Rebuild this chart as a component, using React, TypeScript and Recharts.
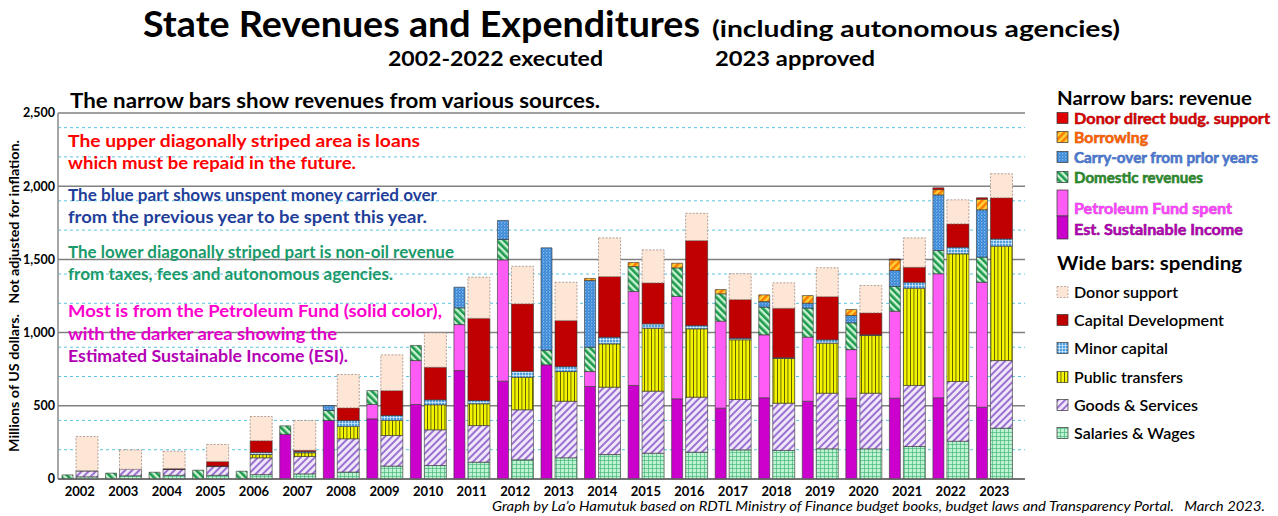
import React from 'react';
import { BarChart, Bar, XAxis, YAxis, CartesianGrid } from 'recharts';

const years = ['2002', '2003', '2004', '2005', '2006', '2007', '2008', '2009', '2010', '2011', '2012', '2013', '2014', '2015', '2016', '2017', '2018', '2019', '2020', '2021', '2022', '2023'];

// narrow bars: revenue (US$ millions)
const esi = [0, 0, 0, 0, 0, 305, 400, 411, 509, 741, 668, 780, 632, 639, 548, 484, 555, 531, 552, 552, 555, 490];
const pfAboveEsi = [0, 0, 0, 0, 0, 0, 0, 98, 300, 314, 829, 0, 102, 642, 699, 594, 430, 438, 332, 594, 847, 854];
const domestic = [28, 40, 46, 60, 53, 58, 68, 95, 103, 114, 139, 100, 166, 170, 195, 187, 189, 198, 183, 169, 159, 171];
const carryOver = [0, 0, 0, 0, 0, 0, 34, 0, 0, 141, 130, 699, 456, 0, 0, 0, 38, 34, 50, 109, 380, 324];
const borrowing = [0, 0, 0, 0, 0, 0, 0, 0, 0, 0, 0, 0, 14, 28, 32, 29, 46, 52, 41, 73, 36, 72];
const donorDirect = [0, 0, 0, 0, 0, 0, 0, 0, 0, 0, 0, 0, 0, 0, 0, 0, 0, 0, 0, 6, 12, 10];

// wide bars: spending
const salaries = [15, 22, 25, 25, 30, 35, 47, 88, 92, 115, 131, 145, 167, 176, 183, 199, 195, 206, 206, 222, 258, 347];
const goods = [40, 45, 40, 60, 115, 119, 228, 209, 244, 250, 342, 386, 460, 424, 376, 344, 323, 380, 380, 417, 408, 462];
const transfers = [0, 0, 0, 0, 22, 25, 84, 103, 171, 149, 222, 203, 296, 430, 467, 408, 305, 342, 394, 664, 872, 781];
const minorCapital = [2, 0, 2, 3, 15, 8, 41, 34, 34, 22, 41, 34, 46, 30, 22, 11, 5, 23, 5, 41, 45, 50];
const capitalDev = [0, 0, 5, 32, 80, 10, 86, 170, 223, 562, 461, 315, 414, 280, 581, 264, 339, 295, 150, 103, 160, 281];
const donorSupport = [233, 132, 118, 116, 165, 203, 228, 244, 234, 280, 256, 261, 264, 225, 186, 176, 173, 197, 187, 200, 164, 164];

const yTicks = [0, 500, 1000, 1500, 2000, 2500];
const minorTicks = [100, 200, 300, 400, 600, 700, 800, 900, 1100, 1200, 1300, 1400, 1600, 1700, 1800, 1900, 2100, 2200, 2300, 2400];

const data = years.map((year, i) => ({
  year,
  esi: esi[i], pf: pfAboveEsi[i], domestic: domestic[i], carry: carryOver[i], borrow: borrowing[i], donorDirect: donorDirect[i],
  salaries: salaries[i], goods: goods[i], transfers: transfers[i], minor: minorCapital[i], capital: capitalDev[i], donor: donorSupport[i],
}));

const FONT = 'Lato, "Open Sans", sans-serif';
const EDGE = '#333';
const GAP = '\u00a0\u00a0\u00a0';

function Patterns() {
  return (
    <svg width={0} height={0} style={{ position: 'absolute' }}>
      <defs>
        <pattern id="pDom" width="5" height="5" patternUnits="userSpaceOnUse" patternTransform="rotate(-45)">
          <rect width="5" height="5" fill="#c9f4d4" />
          <rect width="2.6" height="5" fill="#1f9a4c" />
        </pattern>
        <pattern id="pCarry" width="3" height="3" patternUnits="userSpaceOnUse">
          <rect width="3" height="3" fill="#3a88d6" />
          <circle cx="0.8" cy="0.8" r="0.6" fill="#d8ecff" />
          <circle cx="2.3" cy="2.2" r="0.4" fill="#9fd0ff" />
        </pattern>
        <pattern id="pBorrow" width="5" height="5" patternUnits="userSpaceOnUse" patternTransform="rotate(45)">
          <rect width="5" height="5" fill="#ffd23a" />
          <rect width="2.5" height="5" fill="#ff7a00" />
        </pattern>
        <pattern id="pMinor" width="3" height="3" patternUnits="userSpaceOnUse">
          <rect width="3" height="3" fill="#4f9fe0" />
          <path d="M0 0.4H3M0.4 0V3" stroke="#e6f3ff" strokeWidth="0.7" />
        </pattern>
        <pattern id="pTransfer" width="3.5" height="4" patternUnits="userSpaceOnUse">
          <rect width="3.5" height="4" fill="#f4f400" />
          <rect width="0.8" height="4" fill="#4a4a00" />
        </pattern>
        <pattern id="pGoods" width="5" height="5" patternUnits="userSpaceOnUse" patternTransform="rotate(45)">
          <rect width="5" height="5" fill="#f0e8fa" />
          <rect width="2" height="5" fill="#9c72d0" />
        </pattern>
        <pattern id="pSalary" width="4" height="4" patternUnits="userSpaceOnUse">
          <rect width="4" height="4" fill="#bdf2d2" />
          <path d="M0 0.4H4M0.4 0V4" stroke="#3cb070" strokeWidth="0.7" />
        </pattern>
      </defs>
    </svg>
  );
}

// text stretched to the width it has in the reference
function T({ x, y, w, size, color = '#000', weight = 700, italic, outline, children }: any) {
  return (
    <text x={x} y={y} textLength={w} lengthAdjust="spacingAndGlyphs" dominantBaseline="central"
      fontSize={size} fill={color} fontWeight={weight} fontStyle={italic ? 'italic' : 'normal'} fontFamily={FONT}
      stroke={outline} strokeWidth={outline ? 0.5 : 0} paintOrder="stroke">{children}</text>
  );
}

function Icon({ y, fill, stroke = EDGE, dash, h = 11 }: any) {
  return <rect x={1057} y={y - h / 2} width={11} height={h} fill={fill} stroke={stroke} strokeWidth={0.7} strokeDasharray={dash} />;
}

const revItems = [
  { label: 'Donor direct budg. support', fill: '#e00000', color: '#d80000', line: '#700000', y: 118, w: 196 },
  { label: 'Borrowing', fill: 'url(#pBorrow)', color: '#ff6000', line: '#a04000', y: 137, w: 74 },
  { label: 'Carry-over from prior years', fill: 'url(#pCarry)', color: '#4a78d0', line: '#2a4890', y: 157, w: 184 },
  { label: 'Domestic revenues', fill: 'url(#pDom)', color: '#2a8a2a', line: '#145014', y: 177, w: 129 },
];

const spendItems = [
  { label: 'Donor support', fill: '#fde6d6', stroke: '#a08a80', dash: '2 1.5', y: 292, w: 104 },
  { label: 'Capital Development', fill: '#c00000', y: 320, w: 150 },
  { label: 'Minor capital', fill: 'url(#pMinor)', y: 348, w: 94 },
  { label: 'Public transfers', fill: 'url(#pTransfer)', y: 377, w: 109 },
  { label: 'Goods & Services', fill: 'url(#pGoods)', y: 405, w: 124 },
  { label: 'Salaries & Wages', fill: 'url(#pSalary)', y: 433, w: 121 },
];

export default function App() {
  return (
    <div style={{ position: 'absolute', left: 0, top: 0, width: 1278, height: 516, background: '#fff', overflow: 'hidden', fontFamily: FONT }}>
      <Patterns />
      <BarChart width={1278} height={516} data={data} margin={{ top: 113, right: 253, bottom: 17, left: 8 }} barGap={3}>
        <CartesianGrid vertical={false} horizontalValues={minorTicks} stroke="#5cc4e0" strokeDasharray="3 3" strokeWidth={1} />
        <CartesianGrid vertical={false} horizontalValues={yTicks} stroke="#808080" strokeWidth={1.5} />
        <XAxis dataKey="year" height={20} tickLine={false} axisLine={{ stroke: '#666', strokeWidth: 1.5 }} padding={{ left: 0, right: 9 }}
          tick={{ fontSize: 13, fontWeight: 700, fill: '#000', fontFamily: FONT }} interval={0} />
        <YAxis width={50} domain={[0, 2500]} ticks={yTicks} tickLine={false} tickSize={1} tickMargin={2} axisLine={{ stroke: '#888', strokeWidth: 1.5 }}
          tickFormatter={(v: number) => v.toLocaleString('en-US')} tick={{ fontSize: 12.5, fontWeight: 700, fill: '#000', fontFamily: FONT }} />
        <Bar dataKey="esi" stackId="rev" barSize={11} fill="#cc00cc" stroke={EDGE} strokeWidth={0.6} isAnimationActive={false} />
        <Bar dataKey="pf" stackId="rev" barSize={11} fill="#ff5cf5" stroke={EDGE} strokeWidth={0.6} isAnimationActive={false} />
        <Bar dataKey="domestic" stackId="rev" barSize={11} fill="url(#pDom)" stroke={EDGE} strokeWidth={0.6} isAnimationActive={false} />
        <Bar dataKey="carry" stackId="rev" barSize={11} fill="url(#pCarry)" stroke={EDGE} strokeWidth={0.6} isAnimationActive={false} />
        <Bar dataKey="borrow" stackId="rev" barSize={11} fill="url(#pBorrow)" stroke={EDGE} strokeWidth={0.6} isAnimationActive={false} />
        <Bar dataKey="donorDirect" stackId="rev" barSize={11} fill="#e00000" stroke={EDGE} strokeWidth={0.6} isAnimationActive={false} />
        <Bar dataKey="salaries" stackId="exp" barSize={22} fill="url(#pSalary)" stroke={EDGE} strokeWidth={0.6} isAnimationActive={false} />
        <Bar dataKey="goods" stackId="exp" barSize={22} fill="url(#pGoods)" stroke={EDGE} strokeWidth={0.6} isAnimationActive={false} />
        <Bar dataKey="transfers" stackId="exp" barSize={22} fill="url(#pTransfer)" stroke={EDGE} strokeWidth={0.6} isAnimationActive={false} />
        <Bar dataKey="minor" stackId="exp" barSize={22} fill="url(#pMinor)" stroke={EDGE} strokeWidth={0.6} isAnimationActive={false} />
        <Bar dataKey="capital" stackId="exp" barSize={22} fill="#c00000" stroke={EDGE} strokeWidth={0.6} isAnimationActive={false} />
        <Bar dataKey="donor" stackId="exp" barSize={22} fill="#fde6d6" stroke="#a08a80" strokeDasharray="2 1.5" strokeWidth={0.8} isAnimationActive={false} />
      </BarChart>

      <svg width={1278} height={516} style={{ position: 'absolute', left: 0, top: 0, pointerEvents: 'none' }}>
        <text x={143} y={37} textLength={557} lengthAdjust="spacingAndGlyphs" fontSize={37} fontWeight={700} fontFamily={FONT}>State Revenues and Expenditures</text>
        <text x={712} y={37} textLength={408} lengthAdjust="spacingAndGlyphs" fontSize={23} fontWeight={700} fontFamily={FONT}>(including autonomous agencies)</text>
        <T x={388} y={57} w={215} size={21}>2002-2022 executed</T>
        <T x={715} y={57} w={160} size={21}>2023 approved</T>

        <T x={70} y={100} w={530} size={20}>The narrow bars show revenues from various sources.</T>
        <T x={68} y={140} w={352} size={17.5} color="#ff0000">The upper diagonally striped area is loans</T>
        <T x={68} y={162} w={288} size={17.5} color="#ff0000">which must be repaid in the future.</T>
        <T x={68} y={194} w={369} size={17.5} color="#1f3f9a">The blue part shows unspent money carried over</T>
        <T x={68} y={216} w={359} size={17.5} color="#1f3f9a">from the previous year to be spent this year.</T>
        <T x={68} y={251} w={386} size={17.5} color="#1a9a6a">The lower diagonally striped part is non-oil revenue</T>
        <T x={68} y={273} w={325} size={17.5} color="#1a9a6a">from taxes, fees and autonomous agencies.</T>
        <T x={68} y={310} w={374} size={17.5} color="#ff00cc">Most is from the Petroleum Fund (solid color),</T>
        <T x={68} y={333} w={269} size={17.5} color="#e000c8">with the darker area showing the</T>
        <T x={68} y={355} w={280} size={17.5} color="#b400b4">Estimated Sustainable Income (ESI).</T>

        <g transform="translate(14 296) rotate(-90)">
          <text x={0} y={0} textAnchor="middle" dominantBaseline="central" textLength={312} lengthAdjust="spacingAndGlyphs"
            fontSize={13.5} fontWeight={700} fontFamily={FONT}>{`Millions of US dollars.${GAP}Not adjusted for inflation.`}</text>
        </g>

        <T x={1057} y={97} w={195} size={19.5}>Narrow bars: revenue</T>
        {revItems.map(d => (
          <g key={d.label}>
            <Icon y={d.y} fill={d.fill} />
            <T x={1074} y={d.y} w={d.w} size={15.5} color={d.color} outline={d.line}>{d.label}</T>
          </g>
        ))}
        <rect x={1057} y={190} width={11} height={26} fill="#ff5cf5" stroke={EDGE} strokeWidth={0.7} />
        <rect x={1057} y={216} width={11} height={23} fill="#cc00cc" stroke={EDGE} strokeWidth={0.7} />
        <T x={1074} y={208} w={158} size={15.5} color="#ff44ff" outline="#a020a0">Petroleum Fund spent</T>
        <T x={1074} y={229} w={169} size={15.5} color="#b000b0" outline="#600060">Est. Sustainable Income</T>

        <T x={1057} y={262} w={185} size={19.5}>Wide bars: spending</T>
        {spendItems.map(d => (
          <g key={d.label}>
            <Icon y={d.y} fill={d.fill} stroke={d.stroke || EDGE} dash={d.dash} />
            <T x={1074} y={d.y} w={d.w} size={15.5} weight={600}>{d.label}</T>
          </g>
        ))}

        <T x={492} y={506} w={773} size={13} weight={400} italic>{`Graph by La’o Hamutuk based on RDTL Ministry of Finance budget books, budget laws and Transparency Portal.${GAP}March 2023.`}</T>
      </svg>
    </div>
  );
}
